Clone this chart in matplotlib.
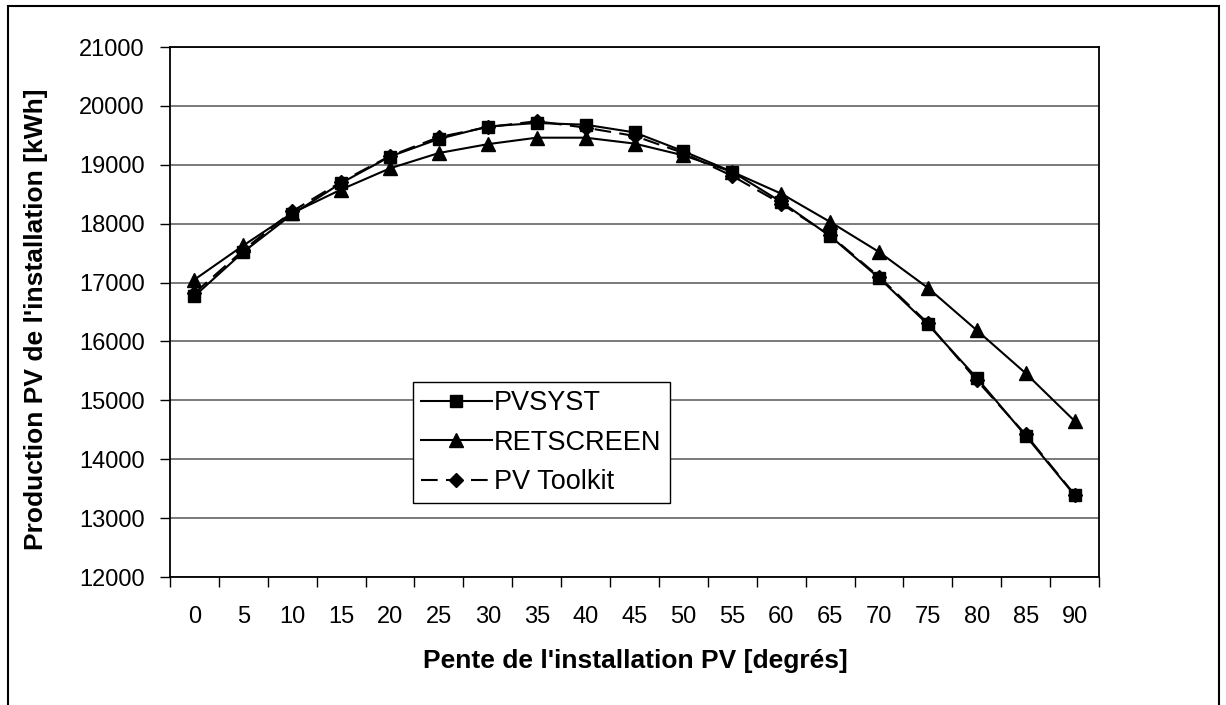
import numpy as np
import matplotlib.pyplot as plt
from matplotlib.patches import Rectangle

plt.rcParams['font.family'] = ['Liberation Sans', 'DejaVu Sans']

# Données
pente = [0, 5, 10, 15, 20, 25, 30, 35, 40, 45, 50, 55, 60, 65, 70, 75, 80, 85, 90]
pvsyst = [16770, 17520, 18160, 18690, 19140, 19440, 19650, 19710, 19680, 19550,
          19230, 18880, 18370, 17790, 17080, 16290, 15380, 14400, 13390]
retscreen = [17050, 17630, 18180, 18580, 18940, 19200, 19350, 19460, 19460, 19360,
             19160, 18880, 18510, 18030, 17520, 16910, 16190, 15460, 14650]
pv_toolkit = [16820, 17550, 18210, 18710, 19150, 19470, 19640, 19740, 19630, 19490,
              19200, 18810, 18340, 17800, 17100, 16310, 15340, 14420, 13400]
y_ticks = [12000, 13000, 14000, 15000, 16000, 17000, 18000, 19000, 20000, 21000]

W, H = 1226, 705
fig = plt.figure(figsize=(W / 100, H / 100), dpi=100)
ax = fig.add_axes([170 / W, (H - 577) / H, (1099 - 170) / W, (577 - 47) / H])

# cadre extérieur
fig.patches.append(Rectangle((8 / W, -0.01), (1219 - 8) / W, (H - 6) / H + 0.01,
                             transform=fig.transFigure, fill=False,
                             edgecolor='black', linewidth=1.5, zorder=0))

x = np.arange(len(pente))
ax.plot(x, pvsyst, color='black', lw=1.5, marker='s', ms=9, label='PVSYST', zorder=3)
ax.plot(x, retscreen, color='black', lw=1.5, marker='^', ms=10, label='RETSCREEN', zorder=3)
ax.plot(x, pv_toolkit, color='black', lw=1.5, ls=(0, (8, 4)), marker='D', ms=7,
        label='PV Toolkit', zorder=3)

ax.set_xlim(-0.5, len(pente) - 0.5)
ax.set_ylim(12000, 21000)
ax.set_yticks(y_ticks)
ax.set_yticklabels([str(v) for v in y_ticks], fontsize=17)
ax.set_xticks(x)
ax.set_xticklabels([str(p) for p in pente], fontsize=17)
ax.set_xticks(np.arange(len(pente) + 1) - 0.5, minor=True)
ax.tick_params(axis='x', which='major', length=0, pad=21)
ax.tick_params(axis='x', which='minor', length=7, width=1, direction='out')
ax.tick_params(axis='y', length=7, width=1, direction='out', pad=11)

ax.grid(axis='y', color='#707070', lw=1.3)
ax.set_axisbelow(True)
for s in ax.spines.values():
    s.set_linewidth(1.3)

fig.text(635 / W, 1 - 661 / H, "Pente de l'installation PV [degrés]", fontsize=19,
         fontweight='bold', ha='center', va='center')
fig.text(36 / W, 1 - 319 / H, "Production PV de l'installation [kWh]", fontsize=19,
         fontweight='bold', ha='center', va='center', rotation=90)

leg = ax.legend(loc='upper left', bbox_to_anchor=((413 - 170) / (1099 - 170),
                                                  (577 - 382) / (577 - 47)),
                prop={'size': 19.5}, frameon=True, fancybox=False, edgecolor='black',
                framealpha=1, handlelength=2.6, handletextpad=0.1,
                borderpad=0.3, labelspacing=0.5, borderaxespad=0)
leg.get_frame().set_linewidth(1.0)

fig.savefig('out.png', dpi=100)
